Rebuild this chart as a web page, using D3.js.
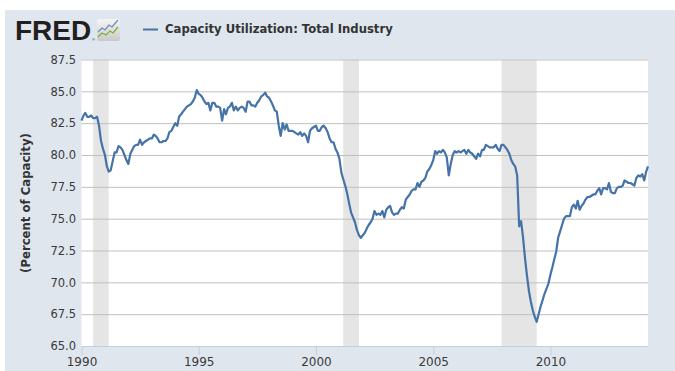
<!DOCTYPE html>
<html><head><meta charset="utf-8">
<script src="https://cdn.jsdelivr.net/npm/d3@7"></script>
<style>html,body{margin:0;padding:0;background:#fff;overflow:hidden}</style>
</head><body>
<svg id="chart" width="675" height="371"></svg>
<script>
const seriesName = "Capacity Utilization: Total Industry";
const yAxisTitle = "(Percent of Capacity)";
const firstMonth = "1990-01-01";
const lastMonth = "2014-03-01";
// monthly values, Jan 1990 .. Mar 2014
const values = [
 82.7, 83.1, 83.3, 83.0, 83.0, 83.1, 82.9, 82.9, 83.0, 82.3, 81.1, 80.5, // 1990
 80.0, 79.1, 78.7, 78.8, 79.5, 80.2, 80.2, 80.7, 80.6, 80.4, 80.0, 79.6, // 1991
 79.3, 80.1, 80.4, 80.7, 80.8, 80.8, 81.2, 80.8, 81.0, 81.1, 81.2, 81.3, // 1992
 81.3, 81.6, 81.5, 81.3, 81.0, 81.0, 81.1, 81.1, 81.3, 81.8, 81.9, 82.2, // 1993
 82.5, 82.3, 83.0, 83.2, 83.4, 83.6, 83.8, 83.9, 84.0, 84.2, 84.5, 85.1, // 1994
 84.8, 84.7, 84.5, 84.2, 84.0, 84.1, 83.5, 84.1, 84.1, 83.8, 83.8, 83.7, // 1995
 82.7, 83.6, 83.2, 83.7, 83.8, 84.1, 83.5, 83.8, 83.5, 83.7, 83.8, 83.7, // 1996
 83.4, 84.2, 84.2, 83.9, 83.9, 83.8, 84.1, 84.3, 84.6, 84.7, 84.9, 84.6, // 1997
 84.5, 84.2, 83.9, 83.5, 83.4, 82.3, 81.5, 82.5, 82.0, 82.4, 81.9, 81.9, // 1998
 81.9, 81.8, 81.7, 81.6, 81.8, 81.5, 81.7, 81.5, 81.0, 81.9, 82.1, 82.2, // 1999
 82.3, 81.9, 81.9, 82.2, 82.3, 82.1, 81.8, 81.3, 81.0, 81.0, 80.5, 80.2, // 2000
 79.7, 78.6, 78.1, 77.6, 77.0, 76.2, 75.5, 75.1, 74.7, 74.1, 73.7, 73.5, // 2001
 73.7, 73.9, 74.2, 74.5, 74.7, 75.0, 75.6, 75.3, 75.4, 75.3, 75.6, 75.1, // 2002
 75.7, 75.9, 76.0, 75.5, 75.3, 75.4, 75.4, 75.7, 75.9, 75.8, 76.5, 76.7, // 2003
 76.9, 77.2, 77.3, 77.3, 77.8, 77.5, 77.9, 78.0, 78.2, 78.7, 78.9, 79.2, // 2004
 79.6, 80.3, 80.1, 80.3, 80.2, 80.4, 80.2, 79.8, 78.4, 79.3, 80.0, 80.3, // 2005
 80.2, 80.3, 80.2, 80.3, 80.4, 80.1, 80.4, 80.2, 80.1, 79.9, 79.7, 80.1, // 2006
 79.9, 80.4, 80.4, 80.8, 80.7, 80.6, 80.6, 80.6, 80.8, 80.5, 80.3, 80.8, // 2007
 80.8, 80.6, 80.4, 80.1, 79.6, 79.3, 79.1, 78.4, 74.4, 74.8, 73.5, 71.9, // 2008
 70.5, 69.3, 68.5, 67.8, 67.3, 66.9, 67.5, 68.1, 68.6, 69.1, 69.5, 69.9, // 2009
 70.6, 71.2, 71.8, 72.4, 73.5, 74.0, 74.5, 75.0, 75.2, 75.2, 75.2, 75.9, // 2010
 76.1, 75.8, 76.4, 75.7, 76.0, 76.2, 76.5, 76.7, 76.7, 76.8, 76.9, 76.9, // 2011
 77.2, 77.4, 76.9, 77.4, 77.4, 77.3, 77.8, 77.1, 77.0, 77.0, 77.4, 77.5, // 2012
 77.5, 77.6, 78.0, 77.9, 77.8, 77.8, 77.7, 77.6, 78.2, 78.4, 78.3, 78.5, // 2013
 78.0, 78.7, 79.1                                                        // 2014
];
const yTicks = [65.0, 67.5, 70.0, 72.5, 75.0, 77.5, 80.0, 82.5, 85.0, 87.5];
const xTickYears = [1990, 1995, 2000, 2005, 2010];
const recessionStarts = ["1990-07-01", "2001-03-01", "2007-12-01"];
const recessionEnds   = ["1991-03-01", "2001-11-01", "2009-06-01"];

const parse = d3.timeParse("%Y-%m-%d");
const start = parse(firstMonth);
const dates = d3.timeMonth.range(start, d3.timeMonth.offset(parse(lastMonth), 1));
const data = values.map((v, i) => ({date: dates[i], value: v}));

const svg = d3.select("#chart");
const plot = {left: 81.5, right: 648, top: 59.5, bottom: 346};
const x = d3.scaleTime().domain([start, parse(lastMonth)]).range([plot.left, plot.right]);
const y = d3.scaleLinear().domain([65, 87.5]).range([plot.bottom, plot.top]);

// outer panel
svg.append("rect").attr("x", 5).attr("y", 10).attr("width", 670).attr("height", 361).attr("fill", "#dfe6ee");
// plot bg
svg.append("rect").attr("x", plot.left).attr("y", plot.top).attr("width", plot.right - plot.left)
  .attr("height", plot.bottom - plot.top).attr("fill", "#ffffff");

// recession bands
svg.append("g").selectAll("rect").data(recessionStarts).join("rect")
  .attr("x", (d) => x(parse(d)))
  .attr("y", plot.top)
  .attr("width", (d, i) => x(parse(recessionEnds[i])) - x(parse(d)))
  .attr("height", plot.bottom - plot.top)
  .attr("fill", "#e5e5e5");

// grid lines + y labels
const yAxis = d3.axisLeft(y).tickValues(yTicks).tickFormat(d3.format(".1f"))
  .tickSize(-(plot.right - plot.left)).tickPadding(6);
const gy = svg.append("g").attr("transform", `translate(${plot.left},0)`).call(yAxis);
gy.select(".domain").remove();
gy.selectAll(".tick line").attr("stroke", "#c0c0c0").attr("stroke-width", 1)
  .filter((d) => d === 65).remove();
gy.selectAll(".tick text").attr("fill", "#3a3a3a").attr("font-family", "DejaVu Sans")
  .attr("font-size", "11.5px").attr("x", -5.5);

// x axis
const xAxis = d3.axisBottom(x).tickValues(xTickYears.map((yr) => new Date(yr, 0, 1)))
  .tickFormat(d3.timeFormat("%Y")).tickSize(9).tickPadding(2).tickSizeOuter(0);
const gx = svg.append("g").attr("transform", `translate(0,${plot.bottom})`).call(xAxis);
gx.select(".domain").attr("stroke", "#c0d0e0");
gx.selectAll(".tick line").attr("stroke", "#c0d0e0");
gx.selectAll(".tick text").attr("fill", "#3a3a3a").attr("font-family", "DejaVu Sans")
  .attr("font-size", "12px");

// series line
const line = d3.line().x((d) => x(d.date)).y((d) => y(d.value));
svg.append("path").datum(data).attr("d", line).attr("fill", "none")
  .attr("stroke", "#4572a7").attr("stroke-width", 2.2).attr("stroke-linejoin", "round");

// y axis title
svg.append("text").attr("transform", "translate(30,203) rotate(-90)")
  .attr("text-anchor", "middle").attr("font-family", "DejaVu Sans").attr("font-weight", "bold")
  .attr("font-size", "11.7px").attr("fill", "#333").text(yAxisTitle);

// legend
svg.append("line").attr("x1", 143).attr("x2", 158).attr("y1", 29.5).attr("y2", 29.5)
  .attr("stroke", "#4572a7").attr("stroke-width", 2);
const leg = svg.append("text").attr("x", 165).attr("y", 33).attr("font-family", "DejaVu Sans")
  .attr("font-weight", "bold").attr("font-size", "12px").attr("fill", "#333").text(seriesName);
const lw = leg.node().getComputedTextLength();
leg.attr("font-size", (12 * 228 / lw).toFixed(2) + "px");

// FRED logo
svg.append("text").attr("x", 15).attr("y", 40).attr("font-family", "Liberation Sans")
  .attr("font-weight", "bold").attr("font-size", "28px").attr("letter-spacing", "0")
  .attr("fill", "#231f20").text("FRED");
svg.append("text").attr("x", 92).attr("y", 41).attr("font-family", "Liberation Sans")
  .attr("font-size", "4px").attr("fill", "#231f20").text("®");
const defs = svg.append("defs");
const gr = defs.append("linearGradient").attr("id", "ic").attr("x1", 0).attr("y1", 0).attr("x2", 0).attr("y2", 1);
gr.append("stop").attr("offset", "0").attr("stop-color", "#f6f6f6");
gr.append("stop").attr("offset", "1").attr("stop-color", "#c9c9c9");
svg.append("rect").attr("x", 97).attr("y", 19).attr("width", 23).attr("height", 22).attr("rx", 2).attr("fill", "url(#ic)");
svg.append("polyline").attr("points", "98,32 102,28 105,30 109,25 112,27 118,20").attr("fill", "none")
  .attr("stroke", "#6b8fc0").attr("stroke-width", 1.3);
svg.append("polyline").attr("points", "98,37 102,33 106,35 110,31 113,33 118,27").attr("fill", "none")
  .attr("stroke", "#7fb03a").attr("stroke-width", 1.3);
</script>
</body></html>
